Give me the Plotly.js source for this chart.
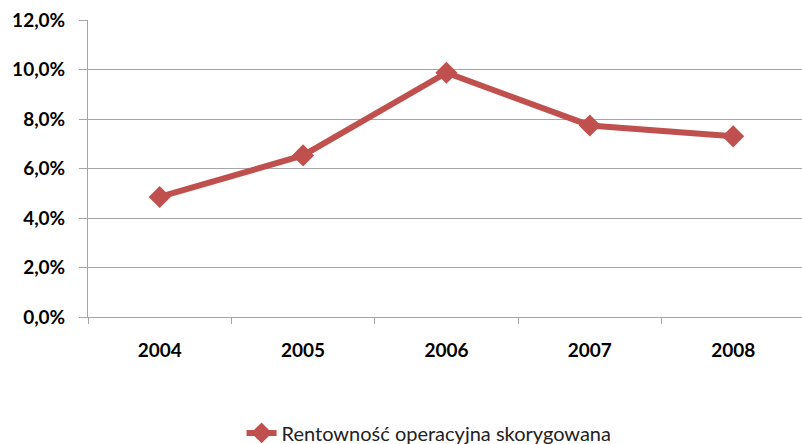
<!DOCTYPE html>
<html>
<head>
<meta charset="utf-8">
<script src="https://cdn.plot.ly/plotly-3.0.1.min.js"></script>
<style>
  html, body { margin: 0; padding: 0; background: #fff; }
  #chart { width: 802px; height: 444px; }
</style>
</head>
<body>
<div id="chart"></div>
<script>
let years = ['2004', '2005', '2006', '2007', '2008'];
let rentownosc = [0.0485, 0.0653, 0.0987, 0.0774, 0.0730];
let seriesName = 'Rentowność operacyjna skorygowana';
let yTicks = [0, 0.02, 0.04, 0.06, 0.08, 0.10, 0.12];
let yTickLabels = ['0,0%', '2,0%', '4,0%', '6,0%', '8,0%', '10,0%', '12,0%'];

var data = [{
    x: years,
    y: rentownosc,
    name: seriesName,
    type: 'scatter',
    mode: 'lines+markers',
    line: { color: '#c0504d', width: 6 },
    marker: { symbol: 'diamond', size: 17, color: '#c0504d' }
}];

var layout = {
    width: 802,
    height: 444,
    margin: { l: 88, r: 0, t: 20, b: 127 },
    paper_bgcolor: '#fff',
    plot_bgcolor: '#fff',
    showlegend: true,
    legend: {
        orientation: 'h',
        xref: 'container', yref: 'container',
        x: 0.535, xanchor: 'center',
        y: 0.025, yanchor: 'middle',
        font: { family: 'Lato, sans-serif', size: 20, color: '#222' }
    },
    xaxis: {
        type: 'category',
        range: [-0.5, 4.48],
        showgrid: false,
        showline: true,
        linecolor: '#a6a6a6',
        linewidth: 1,
        ticks: 'outside',
        tickson: 'boundaries',
        ticklen: 6,
        tickcolor: '#a6a6a6',
        ticklabelstandoff: 16,
        tickfont: { family: 'Lato, sans-serif', size: 19, color: '#000', weight: 'bold' },
        automargin: false
    },
    yaxis: {
        range: [0, 0.12],
        tickvals: yTicks,
        ticktext: yTickLabels,
        showgrid: true,
        gridcolor: '#a6a6a6',
        gridwidth: 1,
        zeroline: false,
        showline: true,
        linecolor: '#a6a6a6',
        ticks: 'outside',
        ticklen: 8,
        tickcolor: '#a6a6a6',
        ticklabelstandoff: 10,
        tickfont: { family: 'Lato, sans-serif', size: 19, color: '#000', weight: 'bold' },
        automargin: false
    }
};

Plotly.newPlot('chart', data, layout, { displayModeBar: false, staticPlot: true });
</script>
</body>
</html>
